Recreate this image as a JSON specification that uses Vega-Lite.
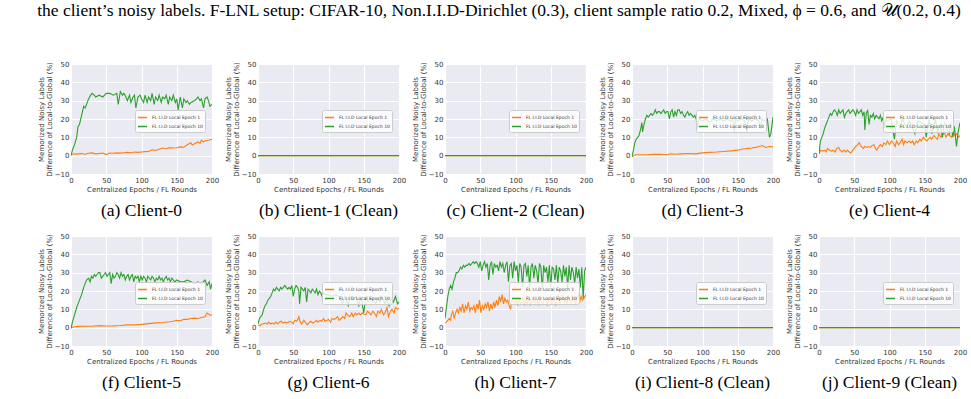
{
 "$schema": "https://vega.github.io/schema/vega-lite/v6.json",
 "padding": {"left": 37, "top": 1, "right": 5, "bottom": 5},
 "title": {"text": "the client’s noisy labels. F-LNL setup: CIFAR-10, Non.I.I.D-Dirichlet (0.3), client sample ratio 0.2, Mixed, ϕ = 0.6, and 𝒰(0.2, 0.4)", "orient": "top", "anchor": "start", "frame": "bounds", "font": "Liberation Serif", "fontSize": 17.5, "fontWeight": "normal", "color": "#000000", "offset": 41},
 "data": {"values": [
{"p":"a","s":1,"x":0,"y":0.5},{"p":"a","s":1,"x":5,"y":1},{"p":"a","s":1,"x":10,"y":1},{"p":"a","s":1,"x":15,"y":1.2},{"p":"a","s":1,"x":20,"y":0.8},{"p":"a","s":1,"x":25,"y":1.3},{"p":"a","s":1,"x":30,"y":1.5},{"p":"a","s":1,"x":35,"y":1},{"p":"a","s":1,"x":40,"y":1.2},{"p":"a","s":1,"x":45,"y":1.4},{"p":"a","s":1,"x":50,"y":0.6},{"p":"a","s":1,"x":55,"y":1.4},{"p":"a","s":1,"x":60,"y":1.3},{"p":"a","s":1,"x":65,"y":1.5},{"p":"a","s":1,"x":70,"y":1.4},{"p":"a","s":1,"x":75,"y":1.6},{"p":"a","s":1,"x":80,"y":1.8},{"p":"a","s":1,"x":85,"y":1.6},{"p":"a","s":1,"x":90,"y":2},{"p":"a","s":1,"x":95,"y":1.8},{"p":"a","s":1,"x":100,"y":2},{"p":"a","s":1,"x":105,"y":2.2},{"p":"a","s":1,"x":110,"y":2.3},{"p":"a","s":1,"x":115,"y":3.2},{"p":"a","s":1,"x":120,"y":2.8},{"p":"a","s":1,"x":125,"y":3.5},{"p":"a","s":1,"x":130,"y":4.2},{"p":"a","s":1,"x":135,"y":3.8},{"p":"a","s":1,"x":140,"y":4.4},{"p":"a","s":1,"x":145,"y":4.2},{"p":"a","s":1,"x":150,"y":4.3},{"p":"a","s":1,"x":155,"y":4.8},{"p":"a","s":1,"x":160,"y":4.6},{"p":"a","s":1,"x":165,"y":6},{"p":"a","s":1,"x":170,"y":7},{"p":"a","s":1,"x":172,"y":5.8},{"p":"a","s":1,"x":175,"y":6.5},{"p":"a","s":1,"x":180,"y":7.5},{"p":"a","s":1,"x":183,"y":6.8},{"p":"a","s":1,"x":185,"y":8.5},{"p":"a","s":1,"x":188,"y":7.5},{"p":"a","s":1,"x":190,"y":8},{"p":"a","s":1,"x":195,"y":8.4},{"p":"a","s":1,"x":200,"y":9},
{"p":"a","s":10,"x":0,"y":0},{"p":"a","s":10,"x":2,"y":3},{"p":"a","s":10,"x":5,"y":6},{"p":"a","s":10,"x":8,"y":10},{"p":"a","s":10,"x":10,"y":16},{"p":"a","s":10,"x":12,"y":17},{"p":"a","s":10,"x":15,"y":22},{"p":"a","s":10,"x":18,"y":27},{"p":"a","s":10,"x":20,"y":26},{"p":"a","s":10,"x":22,"y":28},{"p":"a","s":10,"x":25,"y":31},{"p":"a","s":10,"x":28,"y":33},{"p":"a","s":10,"x":30,"y":34},{"p":"a","s":10,"x":33,"y":33},{"p":"a","s":10,"x":35,"y":32},{"p":"a","s":10,"x":40,"y":33},{"p":"a","s":10,"x":45,"y":32},{"p":"a","s":10,"x":50,"y":34},{"p":"a","s":10,"x":55,"y":34},{"p":"a","s":10,"x":60,"y":33},{"p":"a","s":10,"x":65,"y":34},{"p":"a","s":10,"x":67,"y":28},{"p":"a","s":10,"x":70,"y":35},{"p":"a","s":10,"x":73,"y":33},{"p":"a","s":10,"x":75,"y":34},{"p":"a","s":10,"x":78,"y":32},{"p":"a","s":10,"x":80,"y":30},{"p":"a","s":10,"x":83,"y":33},{"p":"a","s":10,"x":85,"y":29},{"p":"a","s":10,"x":88,"y":32},{"p":"a","s":10,"x":90,"y":33},{"p":"a","s":10,"x":92,"y":26},{"p":"a","s":10,"x":95,"y":32},{"p":"a","s":10,"x":98,"y":33},{"p":"a","s":10,"x":100,"y":31},{"p":"a","s":10,"x":103,"y":29},{"p":"a","s":10,"x":105,"y":33},{"p":"a","s":10,"x":108,"y":29},{"p":"a","s":10,"x":110,"y":32},{"p":"a","s":10,"x":113,"y":30},{"p":"a","s":10,"x":115,"y":34},{"p":"a","s":10,"x":118,"y":28},{"p":"a","s":10,"x":120,"y":32},{"p":"a","s":10,"x":123,"y":30},{"p":"a","s":10,"x":125,"y":33},{"p":"a","s":10,"x":128,"y":29},{"p":"a","s":10,"x":130,"y":32},{"p":"a","s":10,"x":133,"y":31},{"p":"a","s":10,"x":135,"y":33},{"p":"a","s":10,"x":138,"y":28},{"p":"a","s":10,"x":140,"y":32},{"p":"a","s":10,"x":143,"y":30},{"p":"a","s":10,"x":145,"y":33},{"p":"a","s":10,"x":148,"y":29},{"p":"a","s":10,"x":150,"y":31},{"p":"a","s":10,"x":152,"y":25},{"p":"a","s":10,"x":155,"y":32},{"p":"a","s":10,"x":158,"y":26},{"p":"a","s":10,"x":160,"y":31},{"p":"a","s":10,"x":163,"y":29},{"p":"a","s":10,"x":165,"y":30},{"p":"a","s":10,"x":168,"y":28},{"p":"a","s":10,"x":170,"y":29},{"p":"a","s":10,"x":175,"y":30},{"p":"a","s":10,"x":178,"y":31},{"p":"a","s":10,"x":180,"y":32},{"p":"a","s":10,"x":183,"y":30},{"p":"a","s":10,"x":185,"y":31},{"p":"a","s":10,"x":188,"y":26},{"p":"a","s":10,"x":190,"y":31},{"p":"a","s":10,"x":193,"y":32},{"p":"a","s":10,"x":195,"y":30},{"p":"a","s":10,"x":197,"y":27},{"p":"a","s":10,"x":200,"y":28},
{"p":"b","s":1,"x":0,"y":0},{"p":"b","s":1,"x":200,"y":0},{"p":"b","s":10,"x":0,"y":0},{"p":"b","s":10,"x":200,"y":0},
{"p":"c","s":1,"x":0,"y":0},{"p":"c","s":1,"x":200,"y":0},{"p":"c","s":10,"x":0,"y":0},{"p":"c","s":10,"x":200,"y":0},
{"p":"i","s":1,"x":0,"y":0},{"p":"i","s":1,"x":200,"y":0},{"p":"i","s":10,"x":0,"y":0},{"p":"i","s":10,"x":200,"y":0},
{"p":"j","s":1,"x":0,"y":0},{"p":"j","s":1,"x":200,"y":0},{"p":"j","s":10,"x":0,"y":0},{"p":"j","s":10,"x":200,"y":0},
{"p":"d","s":1,"x":0,"y":-0.5},{"p":"d","s":1,"x":5,"y":0.5},{"p":"d","s":1,"x":10,"y":0.5},{"p":"d","s":1,"x":20,"y":0.5},{"p":"d","s":1,"x":30,"y":0.7},{"p":"d","s":1,"x":40,"y":0.8},{"p":"d","s":1,"x":50,"y":0.5},{"p":"d","s":1,"x":55,"y":1},{"p":"d","s":1,"x":60,"y":0.8},{"p":"d","s":1,"x":70,"y":1},{"p":"d","s":1,"x":80,"y":1.2},{"p":"d","s":1,"x":90,"y":1},{"p":"d","s":1,"x":100,"y":1.5},{"p":"d","s":1,"x":110,"y":1.8},{"p":"d","s":1,"x":120,"y":2},{"p":"d","s":1,"x":130,"y":2.3},{"p":"d","s":1,"x":140,"y":2.6},{"p":"d","s":1,"x":150,"y":3},{"p":"d","s":1,"x":155,"y":3.5},{"p":"d","s":1,"x":160,"y":3.8},{"p":"d","s":1,"x":165,"y":4},{"p":"d","s":1,"x":170,"y":4.2},{"p":"d","s":1,"x":175,"y":4.5},{"p":"d","s":1,"x":180,"y":5},{"p":"d","s":1,"x":185,"y":5.5},{"p":"d","s":1,"x":188,"y":4.8},{"p":"d","s":1,"x":190,"y":4.5},{"p":"d","s":1,"x":195,"y":5},{"p":"d","s":1,"x":200,"y":4.8},
{"p":"d","s":10,"x":0,"y":-0.5},{"p":"d","s":10,"x":2,"y":3},{"p":"d","s":10,"x":4,"y":7},{"p":"d","s":10,"x":6,"y":9},{"p":"d","s":10,"x":8,"y":10},{"p":"d","s":10,"x":10,"y":11},{"p":"d","s":10,"x":12,"y":14},{"p":"d","s":10,"x":14,"y":18},{"p":"d","s":10,"x":15,"y":13},{"p":"d","s":10,"x":17,"y":17},{"p":"d","s":10,"x":19,"y":20},{"p":"d","s":10,"x":21,"y":22},{"p":"d","s":10,"x":23,"y":21},{"p":"d","s":10,"x":25,"y":22},{"p":"d","s":10,"x":27,"y":23},{"p":"d","s":10,"x":29,"y":22},{"p":"d","s":10,"x":31,"y":23},{"p":"d","s":10,"x":33,"y":25},{"p":"d","s":10,"x":35,"y":23},{"p":"d","s":10,"x":37,"y":24},{"p":"d","s":10,"x":39,"y":24},{"p":"d","s":10,"x":41,"y":23},{"p":"d","s":10,"x":43,"y":24},{"p":"d","s":10,"x":45,"y":25},{"p":"d","s":10,"x":47,"y":23},{"p":"d","s":10,"x":49,"y":24},{"p":"d","s":10,"x":51,"y":24},{"p":"d","s":10,"x":53,"y":20},{"p":"d","s":10,"x":55,"y":24},{"p":"d","s":10,"x":57,"y":25},{"p":"d","s":10,"x":59,"y":21},{"p":"d","s":10,"x":61,"y":24},{"p":"d","s":10,"x":63,"y":22},{"p":"d","s":10,"x":65,"y":25},{"p":"d","s":10,"x":67,"y":25},{"p":"d","s":10,"x":69,"y":23},{"p":"d","s":10,"x":71,"y":24},{"p":"d","s":10,"x":73,"y":22},{"p":"d","s":10,"x":75,"y":21},{"p":"d","s":10,"x":77,"y":23},{"p":"d","s":10,"x":79,"y":24},{"p":"d","s":10,"x":81,"y":22},{"p":"d","s":10,"x":83,"y":23},{"p":"d","s":10,"x":85,"y":22},{"p":"d","s":10,"x":87,"y":21},{"p":"d","s":10,"x":89,"y":22},{"p":"d","s":10,"x":91,"y":20},{"p":"d","s":10,"x":93,"y":15},{"p":"d","s":10,"x":95,"y":20},{"p":"d","s":10,"x":100,"y":19},{"p":"d","s":10,"x":105,"y":20},{"p":"d","s":10,"x":110,"y":18},{"p":"d","s":10,"x":115,"y":20},{"p":"d","s":10,"x":120,"y":19},{"p":"d","s":10,"x":125,"y":20},{"p":"d","s":10,"x":130,"y":19},{"p":"d","s":10,"x":135,"y":20},{"p":"d","s":10,"x":140,"y":19},{"p":"d","s":10,"x":143,"y":20},{"p":"d","s":10,"x":145,"y":13},{"p":"d","s":10,"x":147,"y":20},{"p":"d","s":10,"x":150,"y":19},{"p":"d","s":10,"x":155,"y":20},{"p":"d","s":10,"x":160,"y":19},{"p":"d","s":10,"x":163,"y":13},{"p":"d","s":10,"x":165,"y":20},{"p":"d","s":10,"x":170,"y":19},{"p":"d","s":10,"x":175,"y":20},{"p":"d","s":10,"x":180,"y":19},{"p":"d","s":10,"x":182,"y":15},{"p":"d","s":10,"x":184,"y":20},{"p":"d","s":10,"x":188,"y":19},{"p":"d","s":10,"x":192,"y":20},{"p":"d","s":10,"x":195,"y":10},{"p":"d","s":10,"x":197,"y":12},{"p":"d","s":10,"x":200,"y":21},
{"p":"e","s":1,"x":0,"y":1},{"p":"e","s":1,"x":2,"y":3},{"p":"e","s":1,"x":5,"y":2.5},{"p":"e","s":1,"x":8,"y":3},{"p":"e","s":1,"x":10,"y":2},{"p":"e","s":1,"x":12,"y":4},{"p":"e","s":1,"x":15,"y":3},{"p":"e","s":1,"x":18,"y":2.5},{"p":"e","s":1,"x":20,"y":3},{"p":"e","s":1,"x":23,"y":2},{"p":"e","s":1,"x":25,"y":4},{"p":"e","s":1,"x":28,"y":4.5},{"p":"e","s":1,"x":30,"y":3},{"p":"e","s":1,"x":33,"y":2},{"p":"e","s":1,"x":35,"y":3},{"p":"e","s":1,"x":38,"y":2},{"p":"e","s":1,"x":40,"y":3},{"p":"e","s":1,"x":43,"y":2},{"p":"e","s":1,"x":45,"y":1.5},{"p":"e","s":1,"x":48,"y":3},{"p":"e","s":1,"x":50,"y":4},{"p":"e","s":1,"x":52,"y":5},{"p":"e","s":1,"x":55,"y":6},{"p":"e","s":1,"x":57,"y":7},{"p":"e","s":1,"x":60,"y":5},{"p":"e","s":1,"x":63,"y":4},{"p":"e","s":1,"x":65,"y":5},{"p":"e","s":1,"x":68,"y":4.5},{"p":"e","s":1,"x":70,"y":5},{"p":"e","s":1,"x":73,"y":4.5},{"p":"e","s":1,"x":75,"y":5.5},{"p":"e","s":1,"x":78,"y":6},{"p":"e","s":1,"x":80,"y":4},{"p":"e","s":1,"x":82,"y":3},{"p":"e","s":1,"x":85,"y":5},{"p":"e","s":1,"x":87,"y":6},{"p":"e","s":1,"x":90,"y":5},{"p":"e","s":1,"x":92,"y":7},{"p":"e","s":1,"x":95,"y":6},{"p":"e","s":1,"x":97,"y":8},{"p":"e","s":1,"x":100,"y":6},{"p":"e","s":1,"x":103,"y":8},{"p":"e","s":1,"x":105,"y":7},{"p":"e","s":1,"x":108,"y":5},{"p":"e","s":1,"x":110,"y":8},{"p":"e","s":1,"x":113,"y":6},{"p":"e","s":1,"x":115,"y":7},{"p":"e","s":1,"x":118,"y":9},{"p":"e","s":1,"x":120,"y":6},{"p":"e","s":1,"x":122,"y":8},{"p":"e","s":1,"x":125,"y":7},{"p":"e","s":1,"x":128,"y":8},{"p":"e","s":1,"x":130,"y":7},{"p":"e","s":1,"x":133,"y":8},{"p":"e","s":1,"x":135,"y":6},{"p":"e","s":1,"x":138,"y":8},{"p":"e","s":1,"x":140,"y":7},{"p":"e","s":1,"x":143,"y":9},{"p":"e","s":1,"x":145,"y":8},{"p":"e","s":1,"x":148,"y":10},{"p":"e","s":1,"x":150,"y":9},{"p":"e","s":1,"x":153,"y":8},{"p":"e","s":1,"x":155,"y":9},{"p":"e","s":1,"x":158,"y":10},{"p":"e","s":1,"x":160,"y":9},{"p":"e","s":1,"x":163,"y":11},{"p":"e","s":1,"x":165,"y":10},{"p":"e","s":1,"x":168,"y":9},{"p":"e","s":1,"x":170,"y":12},{"p":"e","s":1,"x":173,"y":10},{"p":"e","s":1,"x":175,"y":11},{"p":"e","s":1,"x":178,"y":13},{"p":"e","s":1,"x":180,"y":10},{"p":"e","s":1,"x":183,"y":12},{"p":"e","s":1,"x":185,"y":11},{"p":"e","s":1,"x":188,"y":10},{"p":"e","s":1,"x":190,"y":13},{"p":"e","s":1,"x":193,"y":11},{"p":"e","s":1,"x":195,"y":12},{"p":"e","s":1,"x":198,"y":10},{"p":"e","s":1,"x":200,"y":11},
{"p":"e","s":10,"x":0,"y":1},{"p":"e","s":10,"x":2,"y":8},{"p":"e","s":10,"x":4,"y":10},{"p":"e","s":10,"x":6,"y":12},{"p":"e","s":10,"x":8,"y":15},{"p":"e","s":10,"x":10,"y":17},{"p":"e","s":10,"x":12,"y":19},{"p":"e","s":10,"x":14,"y":21},{"p":"e","s":10,"x":16,"y":23},{"p":"e","s":10,"x":18,"y":22},{"p":"e","s":10,"x":20,"y":24},{"p":"e","s":10,"x":22,"y":25},{"p":"e","s":10,"x":24,"y":24},{"p":"e","s":10,"x":26,"y":22},{"p":"e","s":10,"x":28,"y":25},{"p":"e","s":10,"x":30,"y":23},{"p":"e","s":10,"x":32,"y":24},{"p":"e","s":10,"x":34,"y":25},{"p":"e","s":10,"x":36,"y":21},{"p":"e","s":10,"x":38,"y":23},{"p":"e","s":10,"x":40,"y":24},{"p":"e","s":10,"x":42,"y":25},{"p":"e","s":10,"x":44,"y":23},{"p":"e","s":10,"x":46,"y":24},{"p":"e","s":10,"x":48,"y":25},{"p":"e","s":10,"x":50,"y":24},{"p":"e","s":10,"x":52,"y":22},{"p":"e","s":10,"x":54,"y":25},{"p":"e","s":10,"x":56,"y":23},{"p":"e","s":10,"x":58,"y":24},{"p":"e","s":10,"x":60,"y":25},{"p":"e","s":10,"x":62,"y":22},{"p":"e","s":10,"x":64,"y":24},{"p":"e","s":10,"x":65,"y":14},{"p":"e","s":10,"x":67,"y":23},{"p":"e","s":10,"x":69,"y":25},{"p":"e","s":10,"x":71,"y":17},{"p":"e","s":10,"x":73,"y":22},{"p":"e","s":10,"x":75,"y":21},{"p":"e","s":10,"x":77,"y":23},{"p":"e","s":10,"x":79,"y":20},{"p":"e","s":10,"x":81,"y":22},{"p":"e","s":10,"x":83,"y":21},{"p":"e","s":10,"x":85,"y":20},{"p":"e","s":10,"x":87,"y":22},{"p":"e","s":10,"x":89,"y":19},{"p":"e","s":10,"x":91,"y":21},{"p":"e","s":10,"x":93,"y":15},{"p":"e","s":10,"x":95,"y":20},{"p":"e","s":10,"x":97,"y":19},{"p":"e","s":10,"x":102,"y":20},{"p":"e","s":10,"x":107,"y":9},{"p":"e","s":10,"x":110,"y":19},{"p":"e","s":10,"x":115,"y":15},{"p":"e","s":10,"x":118,"y":20},{"p":"e","s":10,"x":125,"y":15},{"p":"e","s":10,"x":128,"y":19},{"p":"e","s":10,"x":136,"y":12},{"p":"e","s":10,"x":140,"y":19},{"p":"e","s":10,"x":145,"y":18},{"p":"e","s":10,"x":150,"y":17},{"p":"e","s":10,"x":152,"y":10},{"p":"e","s":10,"x":156,"y":20},{"p":"e","s":10,"x":160,"y":12},{"p":"e","s":10,"x":165,"y":20},{"p":"e","s":10,"x":168,"y":13},{"p":"e","s":10,"x":172,"y":17},{"p":"e","s":10,"x":175,"y":10},{"p":"e","s":10,"x":178,"y":18},{"p":"e","s":10,"x":182,"y":14},{"p":"e","s":10,"x":185,"y":12},{"p":"e","s":10,"x":187,"y":18},{"p":"e","s":10,"x":190,"y":10},{"p":"e","s":10,"x":192,"y":16},{"p":"e","s":10,"x":195,"y":5},{"p":"e","s":10,"x":197,"y":12},{"p":"e","s":10,"x":200,"y":18},
{"p":"f","s":1,"x":0,"y":0},{"p":"f","s":1,"x":5,"y":0.5},{"p":"f","s":1,"x":10,"y":0.7},{"p":"f","s":1,"x":20,"y":0.8},{"p":"f","s":1,"x":30,"y":0.8},{"p":"f","s":1,"x":40,"y":1.1},{"p":"f","s":1,"x":50,"y":0.9},{"p":"f","s":1,"x":60,"y":1},{"p":"f","s":1,"x":70,"y":1.2},{"p":"f","s":1,"x":80,"y":1.5},{"p":"f","s":1,"x":90,"y":1.5},{"p":"f","s":1,"x":100,"y":1.8},{"p":"f","s":1,"x":110,"y":2.2},{"p":"f","s":1,"x":120,"y":2.6},{"p":"f","s":1,"x":130,"y":2.8},{"p":"f","s":1,"x":140,"y":3.2},{"p":"f","s":1,"x":145,"y":3.5},{"p":"f","s":1,"x":150,"y":4},{"p":"f","s":1,"x":155,"y":3.8},{"p":"f","s":1,"x":160,"y":4.5},{"p":"f","s":1,"x":165,"y":4.5},{"p":"f","s":1,"x":170,"y":5},{"p":"f","s":1,"x":175,"y":5.2},{"p":"f","s":1,"x":180,"y":5},{"p":"f","s":1,"x":185,"y":5.5},{"p":"f","s":1,"x":190,"y":6},{"p":"f","s":1,"x":193,"y":8},{"p":"f","s":1,"x":195,"y":7.5},{"p":"f","s":1,"x":197,"y":6.8},{"p":"f","s":1,"x":200,"y":7},
{"p":"f","s":10,"x":0,"y":-0.5},{"p":"f","s":10,"x":2,"y":3},{"p":"f","s":10,"x":5,"y":7},{"p":"f","s":10,"x":8,"y":11},{"p":"f","s":10,"x":10,"y":13},{"p":"f","s":10,"x":12,"y":15},{"p":"f","s":10,"x":15,"y":18},{"p":"f","s":10,"x":18,"y":22},{"p":"f","s":10,"x":20,"y":24},{"p":"f","s":10,"x":22,"y":26},{"p":"f","s":10,"x":25,"y":27},{"p":"f","s":10,"x":27,"y":25},{"p":"f","s":10,"x":29,"y":28},{"p":"f","s":10,"x":31,"y":27},{"p":"f","s":10,"x":33,"y":29},{"p":"f","s":10,"x":35,"y":28},{"p":"f","s":10,"x":37,"y":29},{"p":"f","s":10,"x":39,"y":30},{"p":"f","s":10,"x":41,"y":30},{"p":"f","s":10,"x":43,"y":27},{"p":"f","s":10,"x":45,"y":28},{"p":"f","s":10,"x":47,"y":29},{"p":"f","s":10,"x":49,"y":30},{"p":"f","s":10,"x":51,"y":28},{"p":"f","s":10,"x":53,"y":29},{"p":"f","s":10,"x":55,"y":30},{"p":"f","s":10,"x":57,"y":24},{"p":"f","s":10,"x":59,"y":29},{"p":"f","s":10,"x":61,"y":27},{"p":"f","s":10,"x":63,"y":28},{"p":"f","s":10,"x":65,"y":30},{"p":"f","s":10,"x":67,"y":29},{"p":"f","s":10,"x":69,"y":27},{"p":"f","s":10,"x":71,"y":30},{"p":"f","s":10,"x":73,"y":28},{"p":"f","s":10,"x":75,"y":29},{"p":"f","s":10,"x":77,"y":26},{"p":"f","s":10,"x":79,"y":28},{"p":"f","s":10,"x":81,"y":29},{"p":"f","s":10,"x":83,"y":26},{"p":"f","s":10,"x":85,"y":28},{"p":"f","s":10,"x":87,"y":29},{"p":"f","s":10,"x":89,"y":25},{"p":"f","s":10,"x":91,"y":28},{"p":"f","s":10,"x":93,"y":27},{"p":"f","s":10,"x":95,"y":28},{"p":"f","s":10,"x":97,"y":25},{"p":"f","s":10,"x":99,"y":28},{"p":"f","s":10,"x":101,"y":26},{"p":"f","s":10,"x":103,"y":28},{"p":"f","s":10,"x":105,"y":27},{"p":"f","s":10,"x":107,"y":25},{"p":"f","s":10,"x":109,"y":28},{"p":"f","s":10,"x":111,"y":27},{"p":"f","s":10,"x":113,"y":26},{"p":"f","s":10,"x":115,"y":28},{"p":"f","s":10,"x":117,"y":27},{"p":"f","s":10,"x":119,"y":25},{"p":"f","s":10,"x":121,"y":27},{"p":"f","s":10,"x":123,"y":26},{"p":"f","s":10,"x":125,"y":28},{"p":"f","s":10,"x":127,"y":26},{"p":"f","s":10,"x":129,"y":27},{"p":"f","s":10,"x":131,"y":25},{"p":"f","s":10,"x":133,"y":27},{"p":"f","s":10,"x":135,"y":28},{"p":"f","s":10,"x":137,"y":26},{"p":"f","s":10,"x":139,"y":27},{"p":"f","s":10,"x":141,"y":25},{"p":"f","s":10,"x":143,"y":27},{"p":"f","s":10,"x":145,"y":26},{"p":"f","s":10,"x":147,"y":25},{"p":"f","s":10,"x":150,"y":26},{"p":"f","s":10,"x":155,"y":25},{"p":"f","s":10,"x":160,"y":25},{"p":"f","s":10,"x":165,"y":26},{"p":"f","s":10,"x":170,"y":25},{"p":"f","s":10,"x":175,"y":24},{"p":"f","s":10,"x":180,"y":25},{"p":"f","s":10,"x":185,"y":24},{"p":"f","s":10,"x":190,"y":26},{"p":"f","s":10,"x":193,"y":23},{"p":"f","s":10,"x":196,"y":25},{"p":"f","s":10,"x":198,"y":21},{"p":"f","s":10,"x":200,"y":24},
{"p":"g","s":1,"x":0,"y":1.5},{"p":"g","s":1,"x":3,"y":1},{"p":"g","s":1,"x":5,"y":2},{"p":"g","s":1,"x":8,"y":2},{"p":"g","s":1,"x":10,"y":2.5},{"p":"g","s":1,"x":13,"y":2},{"p":"g","s":1,"x":15,"y":3},{"p":"g","s":1,"x":18,"y":2},{"p":"g","s":1,"x":20,"y":2.5},{"p":"g","s":1,"x":23,"y":2},{"p":"g","s":1,"x":25,"y":3},{"p":"g","s":1,"x":28,"y":2},{"p":"g","s":1,"x":30,"y":3},{"p":"g","s":1,"x":33,"y":3.5},{"p":"g","s":1,"x":35,"y":2.5},{"p":"g","s":1,"x":38,"y":3},{"p":"g","s":1,"x":40,"y":2.5},{"p":"g","s":1,"x":43,"y":3},{"p":"g","s":1,"x":45,"y":3.5},{"p":"g","s":1,"x":48,"y":3},{"p":"g","s":1,"x":50,"y":2},{"p":"g","s":1,"x":52,"y":4},{"p":"g","s":1,"x":55,"y":3.5},{"p":"g","s":1,"x":57,"y":5},{"p":"g","s":1,"x":58,"y":6},{"p":"g","s":1,"x":60,"y":3},{"p":"g","s":1,"x":62,"y":2},{"p":"g","s":1,"x":65,"y":4},{"p":"g","s":1,"x":67,"y":3},{"p":"g","s":1,"x":70,"y":1.5},{"p":"g","s":1,"x":72,"y":2.5},{"p":"g","s":1,"x":75,"y":3.5},{"p":"g","s":1,"x":78,"y":2.5},{"p":"g","s":1,"x":80,"y":3},{"p":"g","s":1,"x":83,"y":4},{"p":"g","s":1,"x":85,"y":3},{"p":"g","s":1,"x":88,"y":4},{"p":"g","s":1,"x":90,"y":3.5},{"p":"g","s":1,"x":93,"y":5},{"p":"g","s":1,"x":95,"y":3.5},{"p":"g","s":1,"x":98,"y":4},{"p":"g","s":1,"x":100,"y":4.5},{"p":"g","s":1,"x":103,"y":3},{"p":"g","s":1,"x":105,"y":5},{"p":"g","s":1,"x":108,"y":4.5},{"p":"g","s":1,"x":110,"y":5},{"p":"g","s":1,"x":113,"y":6},{"p":"g","s":1,"x":115,"y":4},{"p":"g","s":1,"x":118,"y":5},{"p":"g","s":1,"x":120,"y":6},{"p":"g","s":1,"x":123,"y":5},{"p":"g","s":1,"x":125,"y":8},{"p":"g","s":1,"x":127,"y":7},{"p":"g","s":1,"x":130,"y":6},{"p":"g","s":1,"x":133,"y":8},{"p":"g","s":1,"x":135,"y":6},{"p":"g","s":1,"x":138,"y":8},{"p":"g","s":1,"x":140,"y":7},{"p":"g","s":1,"x":143,"y":8},{"p":"g","s":1,"x":145,"y":7},{"p":"g","s":1,"x":148,"y":8},{"p":"g","s":1,"x":150,"y":7.5},{"p":"g","s":1,"x":153,"y":7},{"p":"g","s":1,"x":155,"y":9},{"p":"g","s":1,"x":158,"y":8},{"p":"g","s":1,"x":160,"y":7},{"p":"g","s":1,"x":163,"y":9},{"p":"g","s":1,"x":165,"y":8},{"p":"g","s":1,"x":168,"y":6},{"p":"g","s":1,"x":170,"y":9},{"p":"g","s":1,"x":173,"y":8},{"p":"g","s":1,"x":175,"y":10},{"p":"g","s":1,"x":178,"y":7},{"p":"g","s":1,"x":180,"y":8},{"p":"g","s":1,"x":183,"y":11},{"p":"g","s":1,"x":185,"y":6},{"p":"g","s":1,"x":188,"y":9},{"p":"g","s":1,"x":190,"y":10},{"p":"g","s":1,"x":193,"y":8},{"p":"g","s":1,"x":195,"y":11},{"p":"g","s":1,"x":198,"y":10},{"p":"g","s":1,"x":200,"y":10.5},
{"p":"g","s":10,"x":0,"y":2},{"p":"g","s":10,"x":2,"y":5},{"p":"g","s":10,"x":4,"y":6},{"p":"g","s":10,"x":6,"y":7},{"p":"g","s":10,"x":8,"y":10},{"p":"g","s":10,"x":10,"y":12},{"p":"g","s":10,"x":12,"y":13},{"p":"g","s":10,"x":14,"y":15},{"p":"g","s":10,"x":16,"y":16},{"p":"g","s":10,"x":18,"y":17},{"p":"g","s":10,"x":20,"y":19},{"p":"g","s":10,"x":22,"y":21},{"p":"g","s":10,"x":24,"y":20},{"p":"g","s":10,"x":26,"y":22},{"p":"g","s":10,"x":28,"y":21},{"p":"g","s":10,"x":30,"y":20},{"p":"g","s":10,"x":32,"y":22},{"p":"g","s":10,"x":34,"y":21},{"p":"g","s":10,"x":36,"y":22},{"p":"g","s":10,"x":38,"y":23},{"p":"g","s":10,"x":40,"y":22},{"p":"g","s":10,"x":42,"y":21},{"p":"g","s":10,"x":44,"y":22},{"p":"g","s":10,"x":46,"y":21},{"p":"g","s":10,"x":48,"y":23},{"p":"g","s":10,"x":50,"y":17},{"p":"g","s":10,"x":52,"y":21},{"p":"g","s":10,"x":54,"y":23},{"p":"g","s":10,"x":56,"y":22},{"p":"g","s":10,"x":58,"y":20},{"p":"g","s":10,"x":59,"y":13},{"p":"g","s":10,"x":61,"y":22},{"p":"g","s":10,"x":63,"y":21},{"p":"g","s":10,"x":65,"y":20},{"p":"g","s":10,"x":67,"y":22},{"p":"g","s":10,"x":69,"y":14},{"p":"g","s":10,"x":71,"y":21},{"p":"g","s":10,"x":73,"y":20},{"p":"g","s":10,"x":75,"y":19},{"p":"g","s":10,"x":77,"y":21},{"p":"g","s":10,"x":79,"y":20},{"p":"g","s":10,"x":81,"y":19},{"p":"g","s":10,"x":83,"y":21},{"p":"g","s":10,"x":85,"y":18},{"p":"g","s":10,"x":87,"y":20},{"p":"g","s":10,"x":89,"y":19},{"p":"g","s":10,"x":91,"y":17},{"p":"g","s":10,"x":93,"y":19},{"p":"g","s":10,"x":95,"y":18},{"p":"g","s":10,"x":100,"y":18},{"p":"g","s":10,"x":105,"y":17},{"p":"g","s":10,"x":110,"y":18},{"p":"g","s":10,"x":115,"y":17},{"p":"g","s":10,"x":120,"y":13},{"p":"g","s":10,"x":123,"y":17},{"p":"g","s":10,"x":128,"y":12},{"p":"g","s":10,"x":131,"y":17},{"p":"g","s":10,"x":135,"y":15},{"p":"g","s":10,"x":139,"y":17},{"p":"g","s":10,"x":143,"y":12},{"p":"g","s":10,"x":146,"y":17},{"p":"g","s":10,"x":150,"y":8},{"p":"g","s":10,"x":153,"y":17},{"p":"g","s":10,"x":156,"y":14},{"p":"g","s":10,"x":160,"y":16},{"p":"g","s":10,"x":163,"y":15},{"p":"g","s":10,"x":167,"y":13},{"p":"g","s":10,"x":170,"y":16},{"p":"g","s":10,"x":173,"y":14},{"p":"g","s":10,"x":176,"y":17},{"p":"g","s":10,"x":180,"y":13},{"p":"g","s":10,"x":183,"y":15},{"p":"g","s":10,"x":186,"y":12},{"p":"g","s":10,"x":189,"y":16},{"p":"g","s":10,"x":192,"y":14},{"p":"g","s":10,"x":195,"y":17},{"p":"g","s":10,"x":198,"y":13},{"p":"g","s":10,"x":200,"y":14},
{"p":"h","s":1,"x":0,"y":2.5},{"p":"h","s":1,"x":2,"y":3},{"p":"h","s":1,"x":4,"y":4},{"p":"h","s":1,"x":6,"y":5},{"p":"h","s":1,"x":8,"y":4},{"p":"h","s":1,"x":9,"y":7},{"p":"h","s":1,"x":11,"y":9},{"p":"h","s":1,"x":13,"y":5},{"p":"h","s":1,"x":15,"y":8},{"p":"h","s":1,"x":17,"y":10},{"p":"h","s":1,"x":19,"y":8},{"p":"h","s":1,"x":21,"y":11},{"p":"h","s":1,"x":23,"y":9},{"p":"h","s":1,"x":25,"y":13},{"p":"h","s":1,"x":27,"y":8},{"p":"h","s":1,"x":29,"y":12},{"p":"h","s":1,"x":31,"y":10},{"p":"h","s":1,"x":33,"y":14},{"p":"h","s":1,"x":35,"y":9},{"p":"h","s":1,"x":37,"y":11},{"p":"h","s":1,"x":39,"y":10},{"p":"h","s":1,"x":41,"y":12},{"p":"h","s":1,"x":43,"y":8},{"p":"h","s":1,"x":45,"y":13},{"p":"h","s":1,"x":47,"y":10},{"p":"h","s":1,"x":49,"y":15},{"p":"h","s":1,"x":51,"y":8},{"p":"h","s":1,"x":53,"y":12},{"p":"h","s":1,"x":55,"y":10},{"p":"h","s":1,"x":57,"y":13},{"p":"h","s":1,"x":59,"y":11},{"p":"h","s":1,"x":61,"y":14},{"p":"h","s":1,"x":63,"y":9},{"p":"h","s":1,"x":65,"y":13},{"p":"h","s":1,"x":67,"y":10},{"p":"h","s":1,"x":69,"y":14},{"p":"h","s":1,"x":71,"y":11},{"p":"h","s":1,"x":73,"y":15},{"p":"h","s":1,"x":75,"y":12},{"p":"h","s":1,"x":77,"y":17},{"p":"h","s":1,"x":79,"y":14},{"p":"h","s":1,"x":81,"y":18},{"p":"h","s":1,"x":83,"y":13},{"p":"h","s":1,"x":85,"y":16},{"p":"h","s":1,"x":87,"y":14},{"p":"h","s":1,"x":89,"y":15},{"p":"h","s":1,"x":91,"y":12},{"p":"h","s":1,"x":93,"y":10},{"p":"h","s":1,"x":95,"y":16},{"p":"h","s":1,"x":97,"y":14},{"p":"h","s":1,"x":99,"y":13},{"p":"h","s":1,"x":101,"y":15},{"p":"h","s":1,"x":103,"y":12},{"p":"h","s":1,"x":105,"y":16},{"p":"h","s":1,"x":107,"y":13},{"p":"h","s":1,"x":109,"y":14},{"p":"h","s":1,"x":111,"y":17},{"p":"h","s":1,"x":113,"y":12},{"p":"h","s":1,"x":115,"y":15},{"p":"h","s":1,"x":117,"y":13},{"p":"h","s":1,"x":119,"y":16},{"p":"h","s":1,"x":121,"y":12},{"p":"h","s":1,"x":123,"y":15},{"p":"h","s":1,"x":125,"y":14},{"p":"h","s":1,"x":127,"y":17},{"p":"h","s":1,"x":129,"y":13},{"p":"h","s":1,"x":131,"y":15},{"p":"h","s":1,"x":133,"y":12},{"p":"h","s":1,"x":135,"y":16},{"p":"h","s":1,"x":137,"y":14},{"p":"h","s":1,"x":139,"y":13},{"p":"h","s":1,"x":141,"y":15},{"p":"h","s":1,"x":143,"y":16},{"p":"h","s":1,"x":145,"y":12},{"p":"h","s":1,"x":147,"y":15},{"p":"h","s":1,"x":149,"y":17},{"p":"h","s":1,"x":151,"y":13},{"p":"h","s":1,"x":153,"y":14},{"p":"h","s":1,"x":155,"y":16},{"p":"h","s":1,"x":157,"y":12},{"p":"h","s":1,"x":159,"y":15},{"p":"h","s":1,"x":161,"y":17},{"p":"h","s":1,"x":163,"y":13},{"p":"h","s":1,"x":165,"y":15},{"p":"h","s":1,"x":167,"y":18},{"p":"h","s":1,"x":169,"y":14},{"p":"h","s":1,"x":171,"y":16},{"p":"h","s":1,"x":173,"y":13},{"p":"h","s":1,"x":175,"y":17},{"p":"h","s":1,"x":177,"y":15},{"p":"h","s":1,"x":179,"y":14},{"p":"h","s":1,"x":181,"y":17},{"p":"h","s":1,"x":183,"y":15},{"p":"h","s":1,"x":185,"y":13},{"p":"h","s":1,"x":187,"y":16},{"p":"h","s":1,"x":189,"y":18},{"p":"h","s":1,"x":191,"y":14},{"p":"h","s":1,"x":193,"y":17},{"p":"h","s":1,"x":195,"y":15},{"p":"h","s":1,"x":197,"y":16},{"p":"h","s":1,"x":200,"y":18},
{"p":"h","s":10,"x":0,"y":5},{"p":"h","s":10,"x":2,"y":11},{"p":"h","s":10,"x":4,"y":17},{"p":"h","s":10,"x":6,"y":21},{"p":"h","s":10,"x":8,"y":23},{"p":"h","s":10,"x":10,"y":21},{"p":"h","s":10,"x":12,"y":25},{"p":"h","s":10,"x":14,"y":27},{"p":"h","s":10,"x":16,"y":30},{"p":"h","s":10,"x":18,"y":30},{"p":"h","s":10,"x":20,"y":31},{"p":"h","s":10,"x":22,"y":33},{"p":"h","s":10,"x":24,"y":32},{"p":"h","s":10,"x":26,"y":34},{"p":"h","s":10,"x":28,"y":33},{"p":"h","s":10,"x":30,"y":34},{"p":"h","s":10,"x":32,"y":34},{"p":"h","s":10,"x":34,"y":35},{"p":"h","s":10,"x":36,"y":34},{"p":"h","s":10,"x":38,"y":35},{"p":"h","s":10,"x":40,"y":36},{"p":"h","s":10,"x":42,"y":35},{"p":"h","s":10,"x":44,"y":36},{"p":"h","s":10,"x":46,"y":35},{"p":"h","s":10,"x":48,"y":33},{"p":"h","s":10,"x":50,"y":36},{"p":"h","s":10,"x":52,"y":31},{"p":"h","s":10,"x":54,"y":34},{"p":"h","s":10,"x":56,"y":36},{"p":"h","s":10,"x":58,"y":33},{"p":"h","s":10,"x":60,"y":35},{"p":"h","s":10,"x":62,"y":26},{"p":"h","s":10,"x":64,"y":34},{"p":"h","s":10,"x":66,"y":36},{"p":"h","s":10,"x":68,"y":29},{"p":"h","s":10,"x":70,"y":35},{"p":"h","s":10,"x":72,"y":33},{"p":"h","s":10,"x":74,"y":34},{"p":"h","s":10,"x":76,"y":31},{"p":"h","s":10,"x":78,"y":36},{"p":"h","s":10,"x":80,"y":33},{"p":"h","s":10,"x":82,"y":35},{"p":"h","s":10,"x":84,"y":30},{"p":"h","s":10,"x":86,"y":34},{"p":"h","s":10,"x":88,"y":36},{"p":"h","s":10,"x":90,"y":25},{"p":"h","s":10,"x":92,"y":34},{"p":"h","s":10,"x":94,"y":35},{"p":"h","s":10,"x":96,"y":27},{"p":"h","s":10,"x":98,"y":36},{"p":"h","s":10,"x":100,"y":31},{"p":"h","s":10,"x":102,"y":34},{"p":"h","s":10,"x":104,"y":25},{"p":"h","s":10,"x":106,"y":35},{"p":"h","s":10,"x":108,"y":33},{"p":"h","s":10,"x":110,"y":22},{"p":"h","s":10,"x":112,"y":34},{"p":"h","s":10,"x":114,"y":35},{"p":"h","s":10,"x":116,"y":28},{"p":"h","s":10,"x":118,"y":34},{"p":"h","s":10,"x":120,"y":22},{"p":"h","s":10,"x":122,"y":33},{"p":"h","s":10,"x":124,"y":35},{"p":"h","s":10,"x":126,"y":27},{"p":"h","s":10,"x":128,"y":34},{"p":"h","s":10,"x":130,"y":31},{"p":"h","s":10,"x":132,"y":24},{"p":"h","s":10,"x":134,"y":35},{"p":"h","s":10,"x":136,"y":33},{"p":"h","s":10,"x":138,"y":21},{"p":"h","s":10,"x":140,"y":34},{"p":"h","s":10,"x":142,"y":30},{"p":"h","s":10,"x":144,"y":33},{"p":"h","s":10,"x":146,"y":25},{"p":"h","s":10,"x":148,"y":34},{"p":"h","s":10,"x":150,"y":22},{"p":"h","s":10,"x":152,"y":33},{"p":"h","s":10,"x":154,"y":32},{"p":"h","s":10,"x":156,"y":26},{"p":"h","s":10,"x":158,"y":34},{"p":"h","s":10,"x":160,"y":24},{"p":"h","s":10,"x":162,"y":33},{"p":"h","s":10,"x":164,"y":31},{"p":"h","s":10,"x":166,"y":25},{"p":"h","s":10,"x":168,"y":34},{"p":"h","s":10,"x":170,"y":28},{"p":"h","s":10,"x":172,"y":33},{"p":"h","s":10,"x":174,"y":22},{"p":"h","s":10,"x":176,"y":34},{"p":"h","s":10,"x":178,"y":26},{"p":"h","s":10,"x":180,"y":33},{"p":"h","s":10,"x":182,"y":30},{"p":"h","s":10,"x":184,"y":24},{"p":"h","s":10,"x":186,"y":33},{"p":"h","s":10,"x":188,"y":27},{"p":"h","s":10,"x":190,"y":32},{"p":"h","s":10,"x":192,"y":22},{"p":"h","s":10,"x":194,"y":33},{"p":"h","s":10,"x":196,"y":16},{"p":"h","s":10,"x":198,"y":31},{"p":"h","s":10,"x":200,"y":33}
 ]},
 "spacing": 12,
 "resolve": {"scale": {"color": "independent"}, "legend": {"color": "independent"}},
 "vconcat": [
  {"bounds": "flush", "spacing": 46, "resolve": {"scale": {"color": "independent"}, "legend": {"color": "independent"}}, "hconcat": [
   {"title": "(a) Client-0", "transform": [{"filter": "datum.p=='a'"}], "mark": {"type": "line", "strokeWidth": 1.1, "clip": true}, "encoding": {"x": {"field": "x", "type": "quantitative", "scale": {"domain": [0, 200]}, "axis": {"values": [0, 50, 100, 150, 200], "title": "Centralized Epochs / FL Rounds"}}, "y": {"field": "y", "type": "quantitative", "scale": {"domain": [-10, 50]}, "axis": {"values": [-10, 0, 10, 20, 30, 40, 50], "title": ["Memorized Noisy Labels", "Difference of Local-to-Global (%)"]}}, "color": {"field": "s", "type": "nominal", "scale": {"domain": [1, 10], "range": ["#ff7f0e", "#2ca02c"]}, "legend": {"title": null, "labelExpr": "'FL I.I.D Local Epoch ' + datum.label"}}}},
   {"title": "(b) Client-1 (Clean)", "transform": [{"filter": "datum.p=='b'"}], "mark": {"type": "line", "strokeWidth": 1.1, "clip": true}, "encoding": {"x": {"field": "x", "type": "quantitative", "scale": {"domain": [0, 200]}, "axis": {"values": [0, 50, 100, 150, 200], "title": "Centralized Epochs / FL Rounds"}}, "y": {"field": "y", "type": "quantitative", "scale": {"domain": [-10, 50]}, "axis": {"values": [-10, 0, 10, 20, 30, 40, 50], "title": ["Memorized Noisy Labels", "Difference of Local-to-Global (%)"]}}, "color": {"field": "s", "type": "nominal", "scale": {"domain": [1, 10], "range": ["#ff7f0e", "#2ca02c"]}, "legend": {"title": null, "labelExpr": "'FL I.I.D Local Epoch ' + datum.label"}}}},
   {"title": "(c) Client-2 (Clean)", "transform": [{"filter": "datum.p=='c'"}], "mark": {"type": "line", "strokeWidth": 1.1, "clip": true}, "encoding": {"x": {"field": "x", "type": "quantitative", "scale": {"domain": [0, 200]}, "axis": {"values": [0, 50, 100, 150, 200], "title": "Centralized Epochs / FL Rounds"}}, "y": {"field": "y", "type": "quantitative", "scale": {"domain": [-10, 50]}, "axis": {"values": [-10, 0, 10, 20, 30, 40, 50], "title": ["Memorized Noisy Labels", "Difference of Local-to-Global (%)"]}}, "color": {"field": "s", "type": "nominal", "scale": {"domain": [1, 10], "range": ["#ff7f0e", "#2ca02c"]}, "legend": {"title": null, "labelExpr": "'FL I.I.D Local Epoch ' + datum.label"}}}},
   {"title": "(d) Client-3", "transform": [{"filter": "datum.p=='d'"}], "mark": {"type": "line", "strokeWidth": 1.1, "clip": true}, "encoding": {"x": {"field": "x", "type": "quantitative", "scale": {"domain": [0, 200]}, "axis": {"values": [0, 50, 100, 150, 200], "title": "Centralized Epochs / FL Rounds"}}, "y": {"field": "y", "type": "quantitative", "scale": {"domain": [-10, 50]}, "axis": {"values": [-10, 0, 10, 20, 30, 40, 50], "title": ["Memorized Noisy Labels", "Difference of Local-to-Global (%)"]}}, "color": {"field": "s", "type": "nominal", "scale": {"domain": [1, 10], "range": ["#ff7f0e", "#2ca02c"]}, "legend": {"title": null, "labelExpr": "'FL I.I.D Local Epoch ' + datum.label"}}}},
   {"title": "(e) Client-4", "transform": [{"filter": "datum.p=='e'"}], "mark": {"type": "line", "strokeWidth": 1.1, "clip": true}, "encoding": {"x": {"field": "x", "type": "quantitative", "scale": {"domain": [0, 200]}, "axis": {"values": [0, 50, 100, 150, 200], "title": "Centralized Epochs / FL Rounds"}}, "y": {"field": "y", "type": "quantitative", "scale": {"domain": [-10, 50]}, "axis": {"values": [-10, 0, 10, 20, 30, 40, 50], "title": ["Memorized Noisy Labels", "Difference of Local-to-Global (%)"]}}, "color": {"field": "s", "type": "nominal", "scale": {"domain": [1, 10], "range": ["#ff7f0e", "#2ca02c"]}, "legend": {"title": null, "labelExpr": "'FL I.I.D Local Epoch ' + datum.label"}}}}
  ]},
  {"bounds": "flush", "spacing": 46, "resolve": {"scale": {"color": "independent"}, "legend": {"color": "independent"}}, "hconcat": [
   {"title": "(f) Client-5", "transform": [{"filter": "datum.p=='f'"}], "mark": {"type": "line", "strokeWidth": 1.1, "clip": true}, "encoding": {"x": {"field": "x", "type": "quantitative", "scale": {"domain": [0, 200]}, "axis": {"values": [0, 50, 100, 150, 200], "title": "Centralized Epochs / FL Rounds"}}, "y": {"field": "y", "type": "quantitative", "scale": {"domain": [-10, 50]}, "axis": {"values": [-10, 0, 10, 20, 30, 40, 50], "title": ["Memorized Noisy Labels", "Difference of Local-to-Global (%)"]}}, "color": {"field": "s", "type": "nominal", "scale": {"domain": [1, 10], "range": ["#ff7f0e", "#2ca02c"]}, "legend": {"title": null, "labelExpr": "'FL I.I.D Local Epoch ' + datum.label"}}}},
   {"title": "(g) Client-6", "transform": [{"filter": "datum.p=='g'"}], "mark": {"type": "line", "strokeWidth": 1.1, "clip": true}, "encoding": {"x": {"field": "x", "type": "quantitative", "scale": {"domain": [0, 200]}, "axis": {"values": [0, 50, 100, 150, 200], "title": "Centralized Epochs / FL Rounds"}}, "y": {"field": "y", "type": "quantitative", "scale": {"domain": [-10, 50]}, "axis": {"values": [-10, 0, 10, 20, 30, 40, 50], "title": ["Memorized Noisy Labels", "Difference of Local-to-Global (%)"]}}, "color": {"field": "s", "type": "nominal", "scale": {"domain": [1, 10], "range": ["#ff7f0e", "#2ca02c"]}, "legend": {"title": null, "labelExpr": "'FL I.I.D Local Epoch ' + datum.label"}}}},
   {"title": "(h) Client-7", "transform": [{"filter": "datum.p=='h'"}], "mark": {"type": "line", "strokeWidth": 1.1, "clip": true}, "encoding": {"x": {"field": "x", "type": "quantitative", "scale": {"domain": [0, 200]}, "axis": {"values": [0, 50, 100, 150, 200], "title": "Centralized Epochs / FL Rounds"}}, "y": {"field": "y", "type": "quantitative", "scale": {"domain": [-10, 50]}, "axis": {"values": [-10, 0, 10, 20, 30, 40, 50], "title": ["Memorized Noisy Labels", "Difference of Local-to-Global (%)"]}}, "color": {"field": "s", "type": "nominal", "scale": {"domain": [1, 10], "range": ["#ff7f0e", "#2ca02c"]}, "legend": {"title": null, "labelExpr": "'FL I.I.D Local Epoch ' + datum.label"}}}},
   {"title": "(i) Client-8 (Clean)", "transform": [{"filter": "datum.p=='i'"}], "mark": {"type": "line", "strokeWidth": 1.1, "clip": true}, "encoding": {"x": {"field": "x", "type": "quantitative", "scale": {"domain": [0, 200]}, "axis": {"values": [0, 50, 100, 150, 200], "title": "Centralized Epochs / FL Rounds"}}, "y": {"field": "y", "type": "quantitative", "scale": {"domain": [-10, 50]}, "axis": {"values": [-10, 0, 10, 20, 30, 40, 50], "title": ["Memorized Noisy Labels", "Difference of Local-to-Global (%)"]}}, "color": {"field": "s", "type": "nominal", "scale": {"domain": [1, 10], "range": ["#ff7f0e", "#2ca02c"]}, "legend": {"title": null, "labelExpr": "'FL I.I.D Local Epoch ' + datum.label"}}}},
   {"title": "(j) Client-9 (Clean)", "transform": [{"filter": "datum.p=='j'"}], "mark": {"type": "line", "strokeWidth": 1.1, "clip": true}, "encoding": {"x": {"field": "x", "type": "quantitative", "scale": {"domain": [0, 200]}, "axis": {"values": [0, 50, 100, 150, 200], "title": "Centralized Epochs / FL Rounds"}}, "y": {"field": "y", "type": "quantitative", "scale": {"domain": [-10, 50]}, "axis": {"values": [-10, 0, 10, 20, 30, 40, 50], "title": ["Memorized Noisy Labels", "Difference of Local-to-Global (%)"]}}, "color": {"field": "s", "type": "nominal", "scale": {"domain": [1, 10], "range": ["#ff7f0e", "#2ca02c"]}, "legend": {"title": null, "labelExpr": "'FL I.I.D Local Epoch ' + datum.label"}}}}
  ]}
 ],
 "config": {
  "background": "#ffffff",
  "view": {"continuousWidth": 141, "continuousHeight": 110, "fill": "#eaeaf2", "stroke": null},
  "axis": {"domain": false, "ticks": false, "grid": true, "gridColor": "#ffffff", "gridWidth": 1.1, "labelFont": "DejaVu Sans", "labelFontSize": 7, "labelColor": "#333333", "labelPadding": 2, "labelFlush": false, "titleFont": "DejaVu Sans", "titleFontSize": 7, "titleFontWeight": "normal", "titleColor": "#333333", "titlePadding": 2},
  "axisY": {"titleLineHeight": 8},
  "legend": {"orient": "none", "legendX": 64, "legendY": 46, "labelFont": "DejaVu Sans", "labelFontSize": 4.5, "labelColor": "#333333", "symbolType": "stroke", "symbolSize": 81, "symbolStrokeWidth": 1.5, "fillColor": "rgba(255,255,255,0.8)", "strokeColor": "#cccccc", "padding": 2, "cornerRadius": 2, "rowPadding": -5, "labelOffset": 4},
  "title": {"orient": "bottom", "frame": "group", "anchor": "middle", "font": "Liberation Serif", "fontSize": 17.5, "fontWeight": "normal", "color": "#000000", "offset": 10}
 }
}
